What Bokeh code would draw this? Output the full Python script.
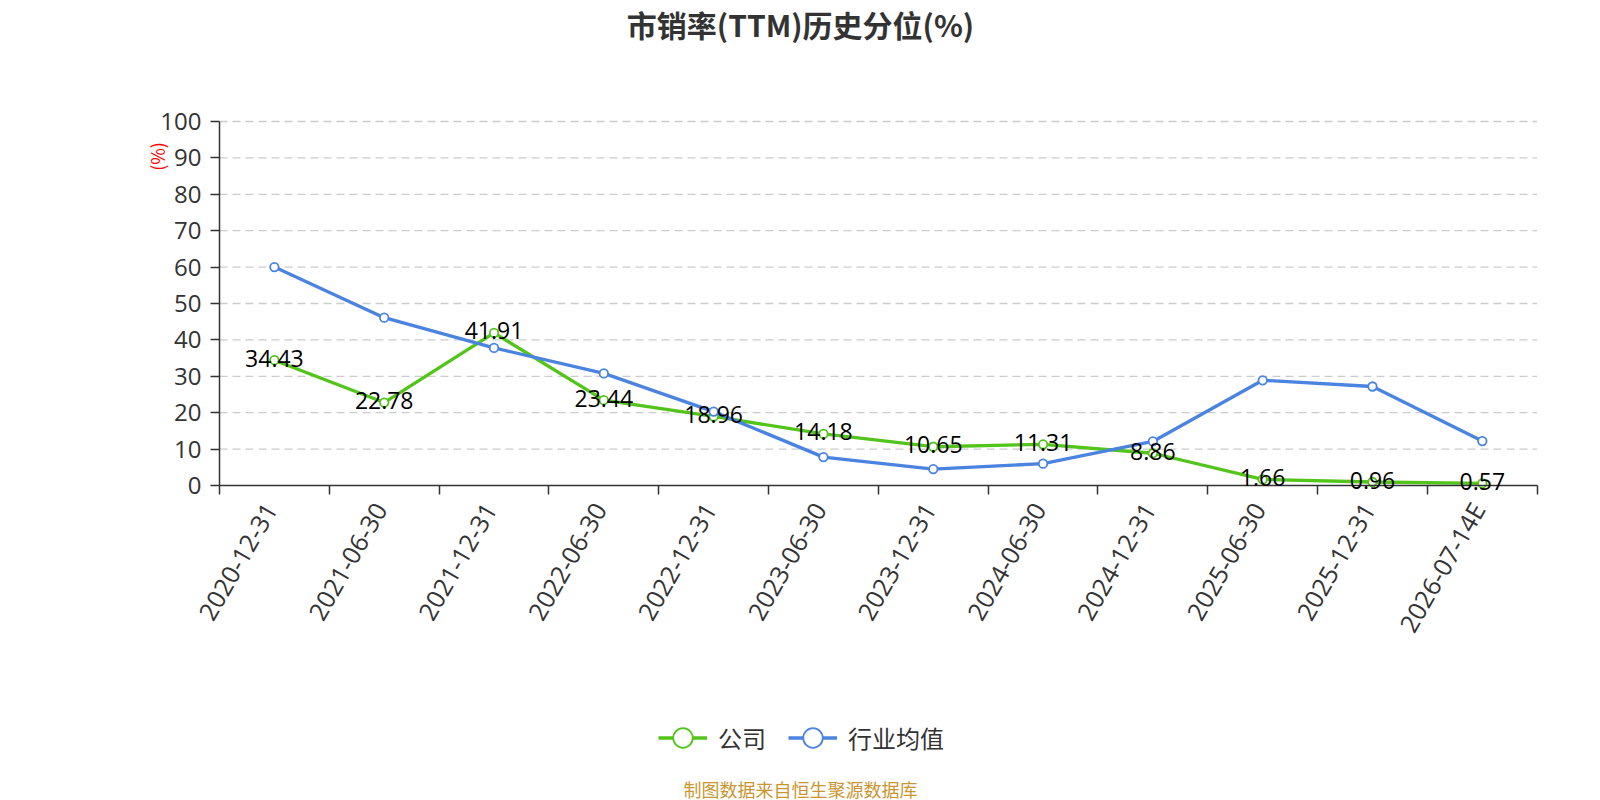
import math
from bokeh.plotting import figure
from bokeh.models import (ColumnDataSource, FixedTicker, Range1d, Label, LabelSet, Legend,
                          LegendItem, CustomJSTickFormatter)
from bokeh.embed import file_html
from bokeh.resources import INLINE
from bokeh.core.properties import value

# ---- data ----
dates = ["2020-12-31", "2021-06-30", "2021-12-31", "2022-06-30", "2022-12-31",
         "2023-06-30", "2023-12-31", "2024-06-30", "2024-12-31", "2025-06-30",
         "2025-12-31", "2026-07-14E"]
company = [34.43, 22.78, 41.91, 23.44, 18.96, 14.18, 10.65, 11.31, 8.86, 1.66, 0.96, 0.57]
industry = [60.0, 46.1, 37.8, 30.8, 20.3, 7.8, 4.5, 6.0, 12.1, 28.9, 27.2, 12.2]
y_ticks = list(range(0, 101, 10))
title_text = "市销率(TTM)历史分位(%)"
y_name = "(%)"
series_names = ["公司", "行业均值"]
source_text = "制图数据来自恒生聚源数据库"

GREEN = "#52c41a"
BLUE = "#4a83e0"
FONT = "Noto Sans CJK SC"
NUM_FONT = "Open Sans"

n = len(dates)
xs = [i + 0.5 for i in range(n)]
src = ColumnDataSource(dict(x=xs, date=dates, company=company, industry=industry,
                            clabel=[f"{v:.2f}" for v in company]))
grid_src = ColumnDataSource(dict(y=y_ticks[1:], x0=[0] * (len(y_ticks) - 1),
                                 x1=[n] * (len(y_ticks) - 1)))

# ---- layout: the frame covers the whole canvas; the plot area sits inside it ----
W, H = 1600, 800
LEFT, RIGHT, TOP, ZERO = 219.0, 1536.7, 121.0, 485.0   # pixel positions of the plot area
Y_MAX = 100.0
ppx = (RIGHT - LEFT) / n
ppy = (ZERO - TOP) / Y_MAX
x_start = -LEFT / ppx
x_end = x_start + W / ppx
y_end = Y_MAX + TOP / ppy
y_start = -(H - ZERO) / ppy
LABEL_SHIFT = -4.5 / ppx   # nudge rotated category labels slightly left

p = figure(width=W, height=H, output_backend="svg", toolbar_location=None, title=None,
           x_range=Range1d(x_start, x_end), y_range=Range1d(y_start, y_end),
           min_border_left=0, min_border_right=0, min_border_top=0,
           min_border_bottom=0)
p.outline_line_color = None
p.background_fill_color = "white"
p.border_fill_color = "white"
p.xgrid.visible = False
p.ygrid.visible = False

# dashed horizontal grid lines across the plot area
p.segment(x0="x0", x1="x1", y0="y", y1="y", source=grid_src, line_color="#cccccc",
          line_width=1.3, line_dash="8 5")

# x axis: labels at category centres, ticks at boundaries
p.xaxis.fixed_location = 0
p.xaxis.bounds = (0, n)
p.xaxis.ticker = FixedTicker(ticks=[x + LABEL_SHIFT for x in xs],
                             minor_ticks=list(range(n + 1)))
p.xaxis.formatter = CustomJSTickFormatter(args=dict(labels=dates),
                                          code="return labels[Math.floor(tick)];")
p.xaxis.major_tick_out = 0
p.xaxis.major_tick_in = 0
p.xaxis.minor_tick_out = 9
p.xaxis.minor_tick_in = 0
p.xaxis.minor_tick_line_color = "#333333"
p.xaxis.minor_tick_line_width = 1.5
p.xaxis.major_label_orientation = math.pi / 3
p.xaxis.major_label_standoff = 10
p.xaxis.major_label_text_font = NUM_FONT
p.xaxis.major_label_text_font_size = "25px"
p.xaxis.major_label_text_color = "#333333"
p.xaxis.axis_line_color = "#333333"
p.xaxis.axis_line_width = 1.5

p.yaxis.fixed_location = 0
p.yaxis.bounds = (0, Y_MAX)
p.yaxis.ticker = FixedTicker(ticks=y_ticks)
p.yaxis.major_tick_out = 9
p.yaxis.major_tick_in = 0
p.yaxis.minor_tick_out = 0
p.yaxis.minor_tick_in = 0
p.yaxis.major_tick_line_color = "#333333"
p.yaxis.major_tick_line_width = 1.5
p.yaxis.major_label_standoff = 9
p.yaxis.major_label_text_font = NUM_FONT
p.yaxis.major_label_text_font_size = "24px"
p.yaxis.major_label_text_color = "#333333"
p.yaxis.axis_line_color = "#333333"
p.yaxis.axis_line_width = 1.5

# series
l1 = p.line("x", "company", source=src, line_color=GREEN, line_width=3.3)
s1 = p.scatter("x", "company", source=src, size=8.5, fill_color="white",
               line_color=GREEN, line_width=1.8)
l2 = p.line("x", "industry", source=src, line_color=BLUE, line_width=3.3)
s2 = p.scatter("x", "industry", source=src, size=8.5, fill_color="white",
               line_color=BLUE, line_width=1.8)

labels = LabelSet(x="x", y="company", text="clabel", source=src, level="overlay",
                  text_font=value(NUM_FONT), text_font_size="23px", text_color="#000000",
                  text_align="center", text_baseline="middle", y_offset=2)
p.add_layout(labels)

legend = Legend(items=[LegendItem(label=series_names[0], renderers=[l1, s1]),
                       LegendItem(label=series_names[1], renderers=[l2, s2])],
                orientation="horizontal", location=(658, 38),
                glyph_width=49, glyph_height=49, label_standoff=11, spacing=22,
                padding=0, margin=0, border_line_color=None,
                background_fill_alpha=0, label_text_font=FONT,
                label_text_font_size="24px", label_text_color="#333333")
p.add_layout(legend, "center")

p.add_layout(Label(x=800, y=777, x_units="screen", y_units="screen", text=title_text,
                   text_align="center", text_baseline="middle", text_font=FONT,
                   text_font_size="30px", text_font_style="bold", text_color="#333333"))
p.add_layout(Label(x=156, y=644, x_units="screen", y_units="screen", text=y_name,
                   angle=math.pi / 2, text_align="center", text_baseline="middle",
                   text_font=FONT, text_font_size="18px", text_color="red"))
p.add_layout(Label(x=800, y=12, x_units="screen", y_units="screen", text=source_text,
                   text_align="center", text_baseline="middle", text_font=FONT,
                   text_font_size="18px", text_color="#c9962f"))

open("out.html", "w").write(file_html(p, INLINE))
